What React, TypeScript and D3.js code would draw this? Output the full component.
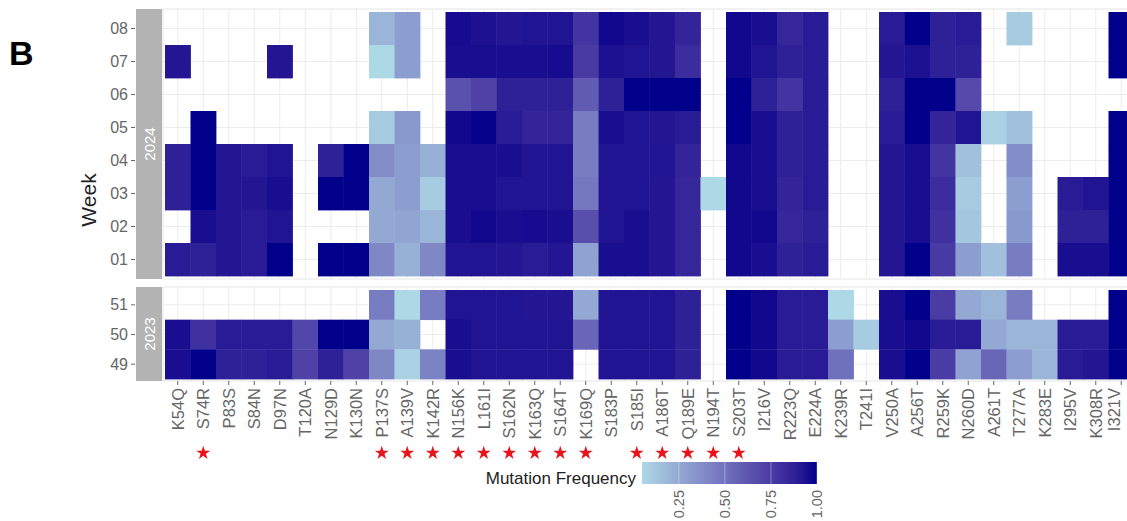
import React from 'react'
import * as d3 from 'd3'

// mutation columns, in the order they appear on the x axis
const mutations = [
  'K54Q', 'S74R', 'P83S', 'S84N', 'D97N', 'T120A', 'N129D', 'K130N', 'P137S', 'A139V',
  'K142R', 'N156K', 'L161I', 'S162N', 'K163Q', 'S164T', 'K169Q', 'S183P', 'S185I', 'A186T',
  'Q189E', 'N194T', 'S203T', 'I216V', 'R223Q', 'E224A', 'K239R', 'T241I', 'V250A', 'A256T',
  'R259K', 'N260D', 'A261T', 'T277A', 'K283E', 'I295V', 'K308R', 'I321V'
]

// sites marked with a red star under the axis
const starred = [
  'S74R', 'P137S', 'A139V', 'K142R', 'N156K', 'L161I', 'S162N', 'K163Q', 'S164T', 'K169Q',
  'S185I', 'A186T', 'Q189E', 'N194T', 'S203T'
]

const weeks2024 = ['08', '07', '06', '05', '04', '03', '02', '01']
const weeks2023 = ['51', '50', '49']

const _ = null
// mutation frequency per week, one value per mutation (null = not observed)
const w08 = [_, _, _, _, _, _, _, _, 0.2, 0.3, _, 0.96, 0.94, 0.92, 0.93, 0.93, 0.78, 0.97, 0.95, 0.92, 0.86, _, 0.97, 0.95, 0.85, 0.9, _, _, 0.9, 1.0, 0.88, 0.9, _, 0.1, _, _, _, 1.0]
const w07 = [0.92, _, _, _, 0.92, _, _, _, 0.05, 0.3, _, 0.95, 0.95, 0.95, 0.95, 0.96, 0.76, 0.94, 0.93, 0.92, 0.82, _, 0.97, 0.93, 0.88, 0.9, _, _, 0.92, 0.94, 0.88, 0.88, _, _, _, _, _, 1.0]
const w06 = [_, _, _, _, _, _, _, _, _, _, _, 0.65, 0.72, 0.88, 0.88, 0.88, 0.6, 0.88, 1.0, 1.0, 1.0, _, 1.0, 0.88, 0.78, 0.9, _, _, 0.88, 1.0, 1.0, 0.68, _, _, _, _, _, _]
const w05 = [_, 1.0, _, _, _, _, _, _, 0.1, 0.32, _, 0.97, 0.99, 0.9, 0.86, 0.86, 0.45, 0.95, 0.93, 0.92, 0.9, _, 1.0, 0.95, 0.88, 0.9, _, _, 0.9, 1.0, 0.86, 0.93, 0.08, 0.15, _, _, _, 1.0]
const w04 = [0.88, 1.0, 0.92, 0.9, 0.93, _, 0.88, 1.0, 0.38, 0.3, 0.22, 0.95, 0.95, 0.95, 0.93, 0.93, 0.45, 0.93, 0.93, 0.93, 0.86, _, 0.97, 0.95, 0.88, 0.9, _, _, 0.92, 0.95, 0.78, 0.15, _, 0.38, _, _, _, 1.0]
const w03 = [0.88, 1.0, 0.92, 0.92, 0.95, _, 1.0, 1.0, 0.25, 0.3, 0.1, 0.95, 0.95, 0.93, 0.93, 0.93, 0.47, 0.93, 0.93, 0.92, 0.85, 0.05, 0.97, 0.95, 0.86, 0.9, _, _, 0.92, 0.95, 0.82, 0.1, _, 0.3, _, 0.9, 0.93, 1.0]
const w02 = [_, 0.95, 0.92, 0.9, 0.93, _, _, _, 0.25, 0.27, 0.2, 0.95, 0.97, 0.95, 0.96, 0.95, 0.66, 0.93, 0.95, 0.92, 0.85, _, 0.97, 0.97, 0.85, 0.88, _, _, 0.92, 0.95, 0.8, 0.12, _, 0.32, _, 0.88, 0.88, 1.0]
const w01 = [0.9, 0.88, 0.92, 0.9, 1.0, _, 1.0, 1.0, 0.4, 0.22, 0.4, 0.93, 0.93, 0.92, 0.9, 0.92, 0.28, 0.95, 0.95, 0.92, 0.85, _, 0.97, 0.95, 0.88, 0.9, _, _, 0.92, 1.0, 0.76, 0.3, 0.15, 0.45, _, 0.95, 0.95, 1.0]
const w51 = [_, _, _, _, _, _, _, _, 0.45, 0.05, 0.45, 0.93, 0.93, 0.93, 0.92, 0.92, 0.25, 0.93, 0.93, 0.93, 0.88, _, 1.0, 0.97, 0.9, 0.9, 0.05, _, 0.95, 1.0, 0.75, 0.25, 0.2, 0.45, _, _, _, 1.0]
const w50 = [0.95, 0.8, 0.9, 0.9, 0.9, 0.7, 1.0, 1.0, 0.25, 0.22, _, 0.95, 0.93, 0.93, 0.93, 0.93, 0.55, 0.93, 0.93, 0.93, 0.88, _, 1.0, 0.97, 0.9, 0.9, 0.3, 0.1, 0.95, 0.97, 0.9, 0.9, 0.25, 0.2, 0.2, 0.9, 0.9, 1.0]
const w49 = [0.95, 1.0, 0.88, 0.88, 0.9, 0.72, 0.88, 0.72, 0.4, 0.08, 0.42, 0.95, 0.93, 0.93, 0.93, 0.93, _, 0.93, 0.93, 0.93, 0.88, _, 1.0, 0.97, 0.9, 0.9, 0.5, _, 0.95, 1.0, 0.75, 0.28, 0.55, 0.3, 0.2, 0.9, 0.92, 1.0]

const rows2024 = [w08, w07, w06, w05, w04, w03, w02, w01]
const rows2023 = [w51, w50, w49]

const legendTicks = [0.25, 0.5, 0.75, 1.0]

const font = '"Liberation Sans", Arial, Helvetica, sans-serif'
const axisGrey = '#666'

export default function App() {
  const width = 1127
  const height = 521

  const x = d3.scaleBand().domain(mutations).range([165, 165 + mutations.length * 25.5])
  const y24 = d3.scaleBand().domain(weeks2024).range([12, 276])
  const y23 = d3.scaleBand().domain(weeks2023).range([290, 379])

  const allVals = [...rows2024, ...rows2023].flat().filter(v => v != null) as number[]
  const [vmin, vmax] = d3.extent(allVals) as [number, number]
  const color = d3.scaleLinear<string>().domain([vmin, vmax])
    .range(['lightblue', 'darkblue']).interpolate(d3.interpolateLab)

  const panels = [
    { label: '2024', weeks: weeks2024, rows: rows2024, y: y24, top: 9, bottom: 279 },
    { label: '2023', weeks: weeks2023, rows: rows2023, y: y23, top: 287, bottom: 381 }
  ]

  const legendX = d3.scaleLinear().domain([vmin, vmax]).range([642, 817])
  const gradStops = d3.range(0, 1.0001, 0.1).map(t => ({ t, c: color(vmin + t * (vmax - vmin)) }))

  const star = d3.symbol().type(d3.symbolStar).size(60)()

  return (
    <svg width={width} height={height} style={{ position: 'absolute', left: 0, top: 0, background: '#fff' }}
      fontFamily={font}>
      <defs>
        <linearGradient id="fillbar" x1="0" x2="1" y1="0" y2="0">
          {gradStops.map(s => <stop key={s.t} offset={s.t} stopColor={s.c} />)}
        </linearGradient>
      </defs>

      <text x={9} y={65} fontSize={34} fontWeight="bold" fill="#000">B</text>

      <text transform="translate(96,200) rotate(-90)" textAnchor="middle" fontSize={21} fill="#222">Week</text>

      {panels.map(p => (
        <g key={p.label}>
          <rect x={163} y={p.top} width={x.range()[1] - 163} height={p.bottom - p.top} fill="#fff" stroke="#e6e6e6" />
          {mutations.map(m => (
            <line key={m} x1={x(m)! + x.bandwidth() / 2} x2={x(m)! + x.bandwidth() / 2} y1={p.top} y2={p.bottom}
              stroke="#ececec" strokeWidth={1} />
          ))}
          {p.weeks.map(w => (
            <line key={w} x1={163} x2={x.range()[1]} y1={p.y(w)! + p.y.bandwidth() / 2} y2={p.y(w)! + p.y.bandwidth() / 2}
              stroke="#ececec" strokeWidth={1} />
          ))}
          {p.rows.map((row, ri) =>
            row.map((v, ci) => v == null ? null : (
              <rect key={ri + '-' + ci} x={x(mutations[ci])!} y={p.y(p.weeks[ri])!}
                width={x.bandwidth() + 0.4} height={p.y.bandwidth() + 0.4} fill={color(v)} />
            ))
          )}
          <rect x={136} y={p.top} width={26} height={p.bottom - p.top} fill="#b3b3b3" />
          <text transform={`translate(149,${(p.top + p.bottom) / 2}) rotate(-90)`} textAnchor="middle"
            dominantBaseline="central" fontSize={15} fill="#fff">{p.label}</text>
          {p.weeks.map(w => {
            const cy = p.y(w)! + p.y.bandwidth() / 2
            return (
              <g key={w}>
                <line x1={131} x2={135} y1={cy} y2={cy} stroke={axisGrey} />
                <text x={128} y={cy} textAnchor="end" dominantBaseline="central" fontSize={16} fill={axisGrey}>{w}</text>
              </g>
            )
          })}
        </g>
      ))}

      {mutations.map(m => {
        const cx = x(m)! + x.bandwidth() / 2
        // the last label sits a little in from the clipped right edge
        const lx = Math.min(cx, 1114)
        return (
          <g key={m}>
            <line x1={cx} x2={cx} y1={381} y2={385} stroke={axisGrey} />
            <text transform={`translate(${lx},388) rotate(-90)`} textAnchor="end" dominantBaseline="central"
              fontSize={16.5} fill={axisGrey}>{m}</text>
          </g>
        )
      })}

      {starred.map(m => (
        <path key={m} d={star!} fill="#e8141c"
          transform={`translate(${x(m)! + x.bandwidth() / 2},453)`} />
      ))}

      <text x={636} y={478} textAnchor="end" dominantBaseline="central" fontSize={17} fill="#222">Mutation Frequency</text>
      <rect x={642} y={462} width={175} height={22} fill="url(#fillbar)" />
      {legendTicks.map(t => (
        <g key={t}>
          <line x1={legendX(t)} x2={legendX(t)} y1={462} y2={484} stroke="#fff" strokeOpacity={0.35} />
          <text transform={`translate(${legendX(t)},490) rotate(-90)`} textAnchor="end" dominantBaseline="central"
            fontSize={14.5} fill={axisGrey}>{t.toFixed(2)}</text>
        </g>
      ))}
    </svg>
  )
}
